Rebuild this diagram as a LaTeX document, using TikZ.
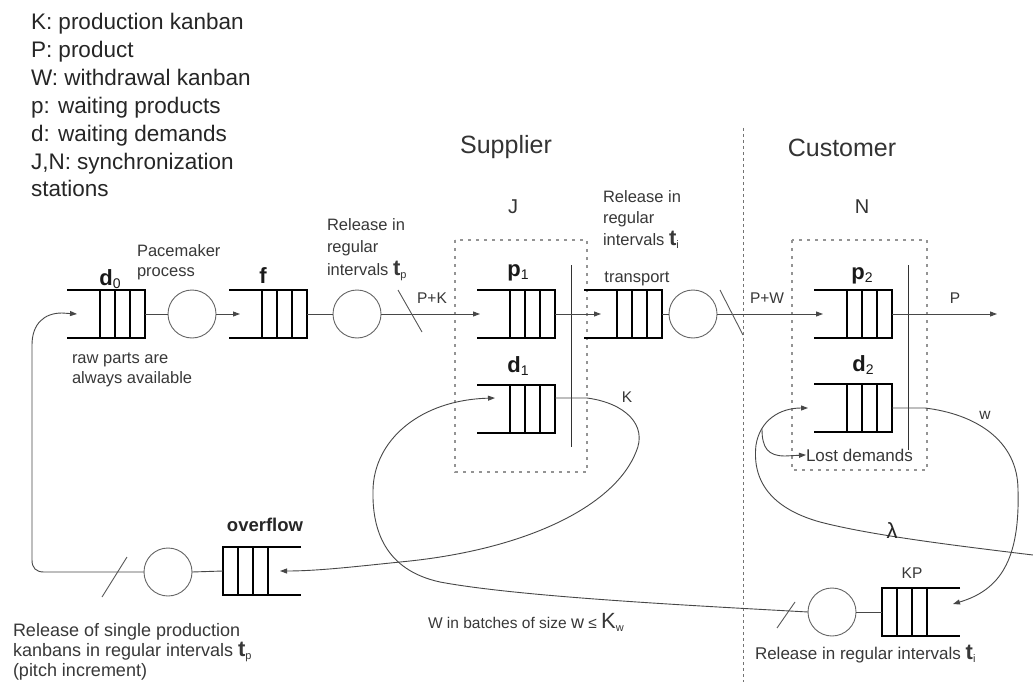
\documentclass[tikz,border=0pt]{standalone}
\usepackage{fontspec}
\setmainfont{Liberation Sans}
\usetikzlibrary{arrows.meta}

% bold queue name with a small subscript
\newcommand\qlab[2]{{\bfseries #1}\raisebox{-3pt}{\fontsize{14}{14}\selectfont #2}}
% bold interval symbol with a small subscript
\newcommand\tbig[2]{{\fontsize{22}{22}\selectfont\bfseries #1}\raisebox{-3pt}{\fontsize{11}{11}\selectfont #2}}

% queue whose closed end is on the right
\newcommand\queueright[1]{%
  \draw[qline] (#1.north west) -- (#1.north east) -- (#1.south east) -- (#1.south west);
  \foreach \qq in {15,30,45}{\draw[qline] ([xshift=-\qq*1pt]#1.north east) -- ([xshift=-\qq*1pt]#1.south east);}}
% queue whose closed end is on the left
\newcommand\queueleft[1]{%
  \draw[qline] (#1.north east) -- (#1.north west) -- (#1.south west) -- (#1.south east);
  \foreach \qq in {15,30,45}{\draw[qline] ([xshift=\qq*1pt]#1.north west) -- ([xshift=\qq*1pt]#1.south west);}}

\begin{document}
\begin{tikzpicture}[x=1pt, y=-1pt,
  every node/.style={inner sep=0pt, outer sep=0pt},
  legend/.style={font=\fontsize{22.5}{27}\selectfont, text=black!85, anchor=base west},
  note/.style={font=\fontsize{16.5}{19}\selectfont, text=black!78, anchor=base west},
  foot/.style={font=\fontsize{18}{21}\selectfont, text=black!78, anchor=base west},
  tag/.style={font=\fontsize{15.5}{18}\selectfont, text=black!78},
  head/.style={font=\fontsize{25}{30}\selectfont, text=black!80},
  qname/.style={font=\fontsize{22}{26}\selectfont, text=black!90},
  qbox/.style={minimum width=78pt, minimum height=48pt, draw=none},
  qline/.style={draw=black, line width=1.8pt},
  circ/.style={circle, draw=black!60, line width=0.9pt, minimum size=48pt},
  flow/.style={draw=black!72, line width=0.9pt},
  tip/.style={-{Triangle[length=7pt,width=5pt]}},
  sync/.style={draw=black!80, line width=1pt},
  station/.style={draw=black!42, line width=2.6pt, dash pattern=on 2.6pt off 5.4pt},
  border/.style={draw=black!55, line width=0.8pt, dash pattern=on 3pt off 3pt},
  slash/.style={draw=black!65, line width=0.9pt}
]
\useasboundingbox (0,0) rectangle (1033,682);
\fill[white] (0,0) rectangle (1033,682);

% ---------- legend ----------
\foreach \txt [count=\i] in {K: production kanban, P: product, W: withdrawal kanban,
    p: waiting products, d: waiting demands, {J,N: synchronization}, stations}
  \node[legend] (leg\i) at (31,{30+27.8*(\i-1)}) {\txt};

% ---------- supplier / customer split ----------
\draw[border] (743,128) -- (743,682);
\node[head] (supplier) at (506,147) {Supplier};
\node[head] (customer) at (842,148) {Customer};
\node[font=\fontsize{20}{24}\selectfont, text=black!80] (Jname) at (513,207) {J};
\node[font=\fontsize{20}{24}\selectfont, text=black!80] (Nname) at (862,207) {N};

% synchronization stations
\draw[station] (455,240) rectangle (587,472);
\draw[station] (792,240) rectangle (927,470);
\draw[sync] (571,265) -- (571,447);
\draw[sync] (908,265) -- (908,450);

% ---------- queues ----------
\node[qbox] (d0) at (106,314) {};
\node[qbox] (f)  at (268,314) {};
\node[qbox] (p1) at (516,314) {};
\node[qbox] (d1) at (516,409) {};
\node[qbox] (tr) at (623,314) {};
\node[qbox] (p2) at (853,314) {};
\node[qbox] (d2) at (853,408) {};
\node[qbox] (ov) at (262,571) {};
\node[qbox] (kp) at (921,612) {};
\queueright{d0} \queueright{f} \queueright{p1} \queueright{d1}
\queueright{tr} \queueright{p2} \queueright{d2}
\queueleft{ov} \queueleft{kp}

% ---------- servers ----------
\node[circ] (c1) at (192,314) {};
\node[circ] (c2) at (357,314) {};
\node[circ] (c3) at (693,314) {};
\node[circ] (c4) at (168,572) {};
\node[circ] (c5) at (832,612) {};

% queue labels
\node[qname] (d0lab) at (110,279) {\qlab{d}{0}};
\node[qname] (flab)  at (263,276) {\textbf{f}};
\node[qname] (p1lab) at (518,273) {\qlab{p}{1}};
\node[qname] (d1lab) at (518,366) {\qlab{d}{1}};
\node[qname] (p2lab) at (862,276) {\qlab{p}{2}};
\node[qname] (d2lab) at (863,365) {\qlab{d}{2}};
\node[font=\fontsize{18.5}{22}\selectfont\bfseries, text=black!85] (ovlab) at (265,525) {overflow};
\node[tag] (kplab) at (912,573) {KP};

% ---------- entry / exit points ----------
\coordinate (d0in) at ([xshift=10pt]d0.west);
\coordinate (fin)  at ([xshift=11pt]f.west);
\coordinate (p1in) at ([xshift=3pt]p1.west);
\coordinate (trin) at ([xshift=17pt]tr.west);
\coordinate (p2in) at ([xshift=9pt]p2.west);
\coordinate (pout) at (997,314);
\coordinate (d1in) at (495,398);
\coordinate (d1out) at (555,398);
\coordinate (d2in) at (808,408);
\coordinate (ovin) at ([xshift=-21pt]ov.east);
\coordinate (kpin) at (953,604);
\coordinate (lamsrc) at (1033,555);
\coordinate (lamsplit) at (762,429);

% ---------- main material flow ----------
\draw[flow] (d0.east) -- (c1.west);
\draw[flow,tip] (c1.east) -- (fin);
\draw[flow] (f.east) -- (c2.west);
\draw[flow,tip] (c2.east) -- (p1in);
\draw[flow,tip] (p1.east) -- (trin);
\draw[flow] (tr.east) -- (c3.west);
\draw[flow,tip] (c3.east) -- (p2in);
\draw[flow,tip] (p2.east) -- (pout);

% batch marks
\draw[slash] (398,290) -- (422,332);
\draw[slash] (720,290) -- (743,335);
\draw[slash] (102,597) -- (127,557);
\draw[slash] (777,628) -- (795,602);

% production kanbans back to overflow
\draw[flow,tip] (d1out) -- (587,398) .. controls (625,403) and (648,425) .. (636,452)
  .. controls (615,505) and (530,548) .. (410,561) .. controls (360,566) and (320,571) .. (ovin);
% withdrawal kanbans from KP to d1
\draw[flow] (c5.east) -- (kp.west);
\draw[flow,tip] (c5.west) .. controls (700,606) and (520,597) .. (440,582)
  .. controls (385,570) and (372,530) .. (373,490) .. controls (374,440) and (420,400) .. (d1in);
% single kanbans back to d0
\draw[flow] (c4.east) -- (ov.west);
\draw[flow,tip] (c4.west) -- (44,572) .. controls (36,572) and (32,568) .. (32,560) -- (32,345)
  .. controls (32,324) and (44,313) .. (62,313) -- (d0in);
% withdrawal kanbans from d2 to KP
\draw[flow,tip] (d2.east) -- (925,408) .. controls (975,414) and (1018,440) .. (1018,490)
  .. controls (1020,560) and (1000,590) .. (kpin);
% customer demand arrivals
\draw[flow,tip] (lamsrc) .. controls (950,545) and (870,535) .. (820,522)
  .. controls (770,508) and (752,480) .. (756,445) .. controls (760,420) and (780,408) .. (d2in);
\node[tag, font=\fontsize{17}{20}\selectfont, anchor=base west] (lost) at (806,461) {Lost demands};
\draw[flow,tip] (lamsplit) .. controls (762,448) and (768,456) .. (785,456) -- (lost.west);
\node[font=\fontsize{22}{22}\selectfont, text=black!85, anchor=south] (lam) at (892,538) {λ};

% ---------- flow labels ----------
\node[tag] (pk) at (432,298) {P+K};
\node[tag] (pw) at (767,298) {P+W};
\node[tag] (plab) at (955,298) {P};
\node[tag] (klab) at (627,397) {K};
\node[tag] (wlab) at (985,415) {w};

% ---------- notes ----------
\node[note] (pace1) at (137,256) {Pacemaker};
\node[note] (pace2) at (137,276) {process};
\node[note] (raw1) at (72,363) {raw parts are};
\node[note] (raw2) at (72,383) {always available};
\node[note] (rtp1) at (327,230) {Release in};
\node[note] (rtp2) at (327,252) {regular};
\node[note] (rtp3) at (327,275) {intervals \tbig{t}{p}};
\node[note] (rti1) at (603,202) {Release in};
\node[note] (rti2) at (603,223) {regular};
\node[note] (rti3) at (603,245) {intervals \tbig{t}{i}};
\node[note, anchor=base] (trlab) at (637,282) {transport};
\node[foot] (rs1) at (13,636) {Release of single production};
\node[foot] (rs2) at (13,656) {kanbans in regular intervals \tbig{t}{p}};
\node[foot] (rs3) at (13,676) {(pitch increment)};
\node[foot, font=\fontsize{15.5}{19}\selectfont] (wb) at (428,628) {W in batches of size {\fontsize{18}{18}\selectfont w} ≤ {\fontsize{22}{22}\selectfont K}\raisebox{-3pt}{\fontsize{11}{11}\selectfont w}};
\node[foot, font=\fontsize{17}{20}\selectfont] (rkp) at (755,659) {Release in regular intervals \tbig{t}{i}};
\end{tikzpicture}
\end{document}
